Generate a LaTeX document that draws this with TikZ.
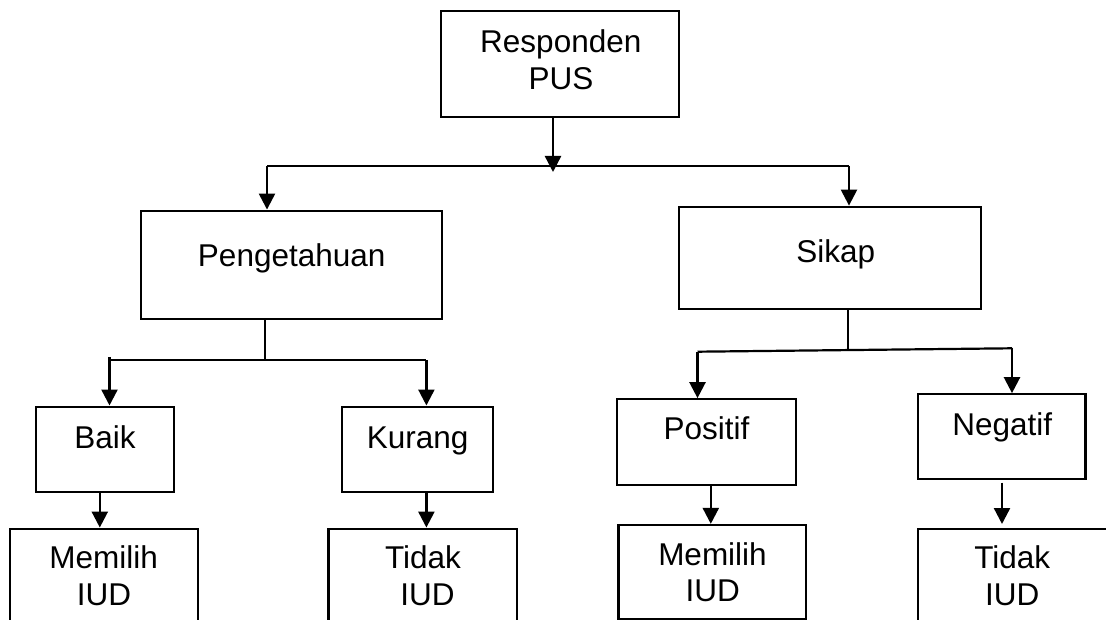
\documentclass[tikz,border=0pt]{standalone}
\usepackage{fontspec}
\setmainfont{Liberation Sans}
\usetikzlibrary{arrows.meta}

\begin{document}
\begin{tikzpicture}[x=1pt,y=-1pt,
  box/.style={draw, line width=2.3pt, rectangle, inner sep=0pt},
  txt/.style={anchor=base, inner sep=0pt, font=\fontsize{31.5}{36}\selectfont},
  line/.style={line width=2.2pt},
  conn/.style={line width=2.4pt, -{Triangle[length=16pt,width=16pt]}}]
\useasboundingbox (0,0) rectangle (1106,620);
\clip (0,0) rectangle (1106,620);

% boxes
\node[box, minimum width=238pt, minimum height=106pt] (resp) at (560,64) {};
\node[box, minimum width=300.7pt, minimum height=108.6pt] (peng) at (291.4,265) {};
\node[box, minimum width=301.4pt, minimum height=102.3pt] (sikap) at (830,257.9) {};
\node[box, minimum width=137.7pt, minimum height=85.3pt] (baik) at (104.9,449.3) {};
\node[box, minimum width=151pt, minimum height=85.3pt] (kurang) at (417.5,449.3) {};
\node[box, minimum width=178.9pt, minimum height=85.7pt] (pos) at (706.25,442.15) {};
\node[box, minimum width=167.4pt, minimum height=85pt] (neg) at (1001.7,436.8) {};
\node[box, minimum width=188.3pt, minimum height=111.3pt] (meml) at (103.85,584.35) {};
\node[box, minimum width=188.6pt, minimum height=111.3pt] (tidl) at (422.7,584.35) {};
\node[box, minimum width=187.5pt, minimum height=94pt] (memr) at (712.25,572) {};
\node[box, minimum width=207pt, minimum height=111.3pt] (tidr) at (1021.5,584.35) {};

% labels
\node[txt] (resp-a) at (560.8,52.7) {Responden};
\node[txt] (resp-b) at (561,89.3) {PUS};
\node[txt] (peng-t) at (291.7,266.7) {Pengetahuan};
\node[txt] (sikap-t) at (835.8,262.7) {Sikap};
\node[txt] (baik-t) at (105,448.3) {Baik};
\node[txt] (kurang-t) at (417.6,448.3) {Kurang};
\node[txt] (pos-t) at (706.4,439.3) {Positif};
\node[txt] (neg-t) at (1002.2,435) {Negatif};
\node[txt] (meml-a) at (103.7,568.3) {Memilih};
\node[txt] (meml-b) at (104,605) {IUD};
\node[txt] (tidl-a) at (423,568.3) {Tidak};
\node[txt] (tidl-b) at (427.6,605) {IUD};
\node[txt] (memr-a) at (712.5,565.7) {Memilih};
\node[txt] (memr-b) at (712.8,601.7) {IUD};
\node[txt] (tidr-a) at (1012.3,568.3) {Tidak};
\node[txt] (tidr-b) at (1012.3,605) {IUD};

% junction points
\coordinate (j0) at (553,172);
\coordinate (hl) at (267,166);
\coordinate (hr) at (849,166);
\coordinate (pj) at (265,360);
\coordinate (pl) at (109.5,360);
\coordinate (plt) at (109.5,357);
\coordinate (pr) at (426.4,360);
\coordinate (sj) at (848.3,349.5);
\coordinate (sl) at (697.5,351.7);
\coordinate (sr) at (1012,348.3);
\coordinate (a1) at (99.8,0);
\coordinate (a2) at (426.4,0);
\coordinate (a3) at (710.8,0);
\coordinate (a4s) at (1002,482.7);
\coordinate (a4e) at (1002,524);

% top level
\draw[conn] (resp.south -| j0) -- (j0);
\draw[line] (hl) -- (hr);
\draw[conn] (hl) -- (peng.north -| hl);
\draw[conn] (hr) -- (sikap.north -| hr);

% Pengetahuan branch
\draw[line] (peng.south -| pj) -- (pj);
\draw[line] (pl) -- (pr);
\draw[conn] (plt) -- (baik.north -| plt);
\draw[conn] (pr) -- (kurang.north -| pr);
\draw[conn] (baik.south -| a1) -- (meml.north -| a1);
\draw[conn] (kurang.south -| a2) -- (tidl.north -| a2);

% Sikap branch
\draw[line] (sikap.south -| sj) -- (sj);
\draw[line] (sl) -- (sr);
\draw[conn] (sl) -- (pos.north -| sl);
\draw[conn] (sr) -- (neg.north -| sr);
\draw[conn] (pos.south -| a3) -- (memr.north -| a3);
\draw[conn] (a4s) -- (a4e);
\end{tikzpicture}
\end{document}
